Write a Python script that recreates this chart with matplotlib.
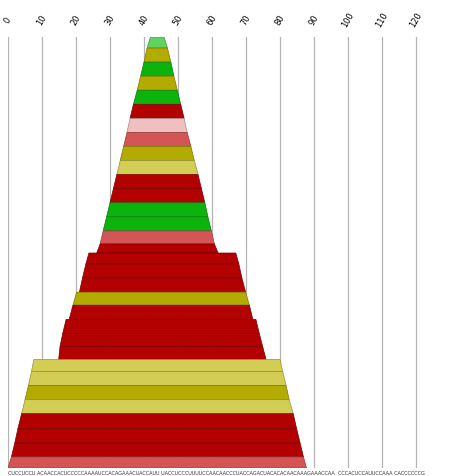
import matplotlib
matplotlib.use("Agg")
import matplotlib.pyplot as plt
from matplotlib.patches import Polygon
from matplotlib.colors import to_rgb

# ------------------------------------------------------------
# DATA (x in axis units, one row per segment, top to bottom)
# ------------------------------------------------------------

left_top = [41.9, 40.9, 40.0, 39.0, 38.0, 36.9, 35.9, 35.0, 34.0, 33.0, 32.0,
            31.0, 30.0, 29.0, 28.0, 27.1, 23.8, 22.9, 21.9, 20.2, 19.1, 17.1,
            16.1, 15.3, 7.6, 6.9, 6.0, 5.0, 4.0, 2.9, 2.0, 1.0]
left_bot = [40.9, 40.0, 39.0, 38.0, 36.9, 35.9, 35.0, 34.0, 33.0, 32.0, 31.0,
            30.0, 29.0, 28.0, 27.1, 26.1, 22.9, 21.9, 21.0, 19.1, 18.0, 16.1,
            15.3, 14.9, 6.9, 6.0, 5.0, 4.0, 2.9, 2.0, 1.0, 0.0]
right_top = [45.9, 46.9, 47.9, 48.8, 49.8, 50.8, 51.8, 52.7, 53.8, 54.8, 55.9,
             56.9, 57.9, 58.8, 59.8, 60.7, 67.0, 67.9, 68.8, 69.9, 71.0, 72.9,
             73.9, 74.9, 80.0, 80.8, 81.8, 82.7, 83.9, 84.9, 85.9, 86.9]
right_bot = [46.9, 47.9, 48.8, 49.8, 50.8, 51.8, 52.7, 53.8, 54.8, 55.9, 56.9,
             57.9, 58.8, 59.8, 60.7, 61.8, 67.9, 68.8, 69.9, 71.0, 72.0, 73.9,
             74.9, 75.9, 80.8, 81.8, 82.7, 83.9, 84.9, 85.9, 86.9, 87.8]
row_heights = [11, 14, 14, 14, 14, 14, 14, 14, 14, 14, 14, 14, 14, 14, 13, 9,
               11, 14, 14, 13, 14, 14, 13, 13, 12, 14, 14, 14, 15, 14, 14, 11]
row_colors = ["lg", "ol", "g", "ol", "g", "dr", "pk", "sa", "ol", "lo", "dr",
              "dr", "g", "g", "sa", "dr", "dr", "dr", "dr", "ol", "dr", "dr",
              "dr", "dr", "lo", "lo", "ol", "lo", "dr", "dr", "dr", "sa"]

palette = {"lg": "#5fd35f", "g": "#0cb30c", "ol": "#b3ab00", "lo": "#d3cd55",
           "dr": "#b30000", "pk": "#f0c0c0", "sa": "#d35555"}

ticks = list(range(0, 130, 10))
sequence = ("CUCCUCCU ACAACCACUCCCCCAAAAUCCACAGAAACUACCAUU UACCUCCCUUUUCCAACAACCCU"
            "ACCAGACUACACACAACAAAGAAACCAA  CCCACUCCAUUCCAAA CACCCCCCG")

# ------------------------------------------------------------
# PLOT
# ------------------------------------------------------------

fig = plt.figure(figsize=(4.52, 4.77), dpi=100)
# x: 0 -> px 8, 10 units = 34 px ; y: px 38 -> 469
ax = fig.add_axes([8 / 452, 1 - 469 / 477, 444 / 452, 431 / 477])
ax.set_xlim(0, 444 / 3.4)
total = sum(row_heights)
ax.set_ylim(total, 0)

for t in ticks:
    ax.axvline(t, color="#b4b4b4", lw=0.9, zorder=0)

y = 0
for lt, lb, rt, rb, h, c in zip(left_top, left_bot, right_top, right_bot,
                                row_heights, row_colors):
    col = palette[c]
    edge = tuple(v * 0.7 for v in to_rgb(col))
    poly = Polygon([(lt, y), (rt, y), (rb, y + h), (lb, y + h)],
                   closed=True, facecolor=col, edgecolor=edge, lw=0.5, zorder=2)
    ax.add_patch(poly)
    y += h

ax.set_xticks([])
ax.set_yticks([])
for s in ax.spines.values():
    s.set_visible(False)

for t in ticks:
    fig.text((8 + 3.4 * t) / 452, 1 - 20 / 477, str(t), rotation=60,
             ha="center", va="center", fontsize=6)

fig.text(8 / 452, 1 - 474 / 477, sequence, fontsize=3.6, ha="left", va="center",
         color="#333333")

fig.savefig("out.png", dpi=100)
